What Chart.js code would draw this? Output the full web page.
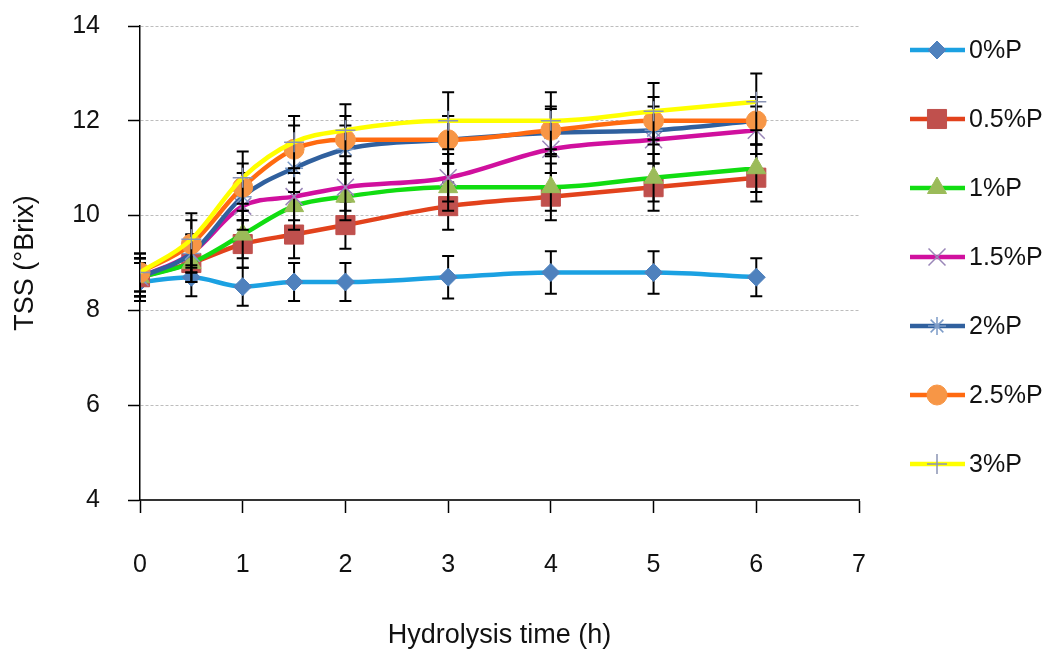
<!DOCTYPE html>
<html lang="en">
<head>
  <meta charset="UTF-8">
  <title>TSS during hydrolysis</title>
  <script src="https://cdn.jsdelivr.net/npm/chart.js"></script>
  <style>
    html, body { margin: 0; padding: 0; background: #fff; }
    #wrap { width: 1052px; height: 652px; }
  </style>
</head>
<body>
  <div id="wrap"><canvas id="tssChart"></canvas></div>
  <script>
    // Hydrolysis time (h) and axis ticks
    const times = [0, 0.5, 1, 1.5, 2, 3, 4, 5, 6];
    const xTickValues = [0, 1, 2, 3, 4, 5, 6, 7];
    const yTickValues = [4, 6, 8, 10, 12, 14];
    const seriesNames = ['0%P', '0.5%P', '1%P', '1.5%P', '2%P', '2.5%P', '3%P'];

    // TSS (°Brix)
    const tss0  = [8.6, 8.7, 8.5, 8.6, 8.6, 8.7, 8.8, 8.8, 8.7];
    const tss05 = [8.7, 9.0, 9.4, 9.6, 9.8, 10.2, 10.4, 10.6, 10.8];
    const tss1  = [8.7, 9.0, 9.6, 10.2, 10.4, 10.6, 10.6, 10.8, 11.0];
    const tss15 = [8.7, 9.2, 10.2, 10.4, 10.6, 10.8, 11.4, 11.6, 11.8];
    const tss2  = [8.7, 9.2, 10.4, 11.0, 11.4, 11.6, 11.75, 11.8, 12.0];
    const tss25 = [8.8, 9.4, 10.6, 11.4, 11.6, 11.6, 11.8, 12.0, 12.0];
    const tss3  = [8.8, 9.5, 10.8, 11.55, 11.8, 12.0, 12.0, 12.2, 12.4];

    // error bar half-lengths
    const err0  = [0.4, 0.4, 0.4, 0.4, 0.4, 0.45, 0.45, 0.45, 0.4];
    const err05 = [0.4, 0.4, 0.5, 0.5, 0.5, 0.5, 0.5, 0.5, 0.5];
    const err1  = [0.4, 0.4, 0.5, 0.5, 0.5, 0.5, 0.5, 0.5, 0.5];
    const err15 = [0.4, 0.4, 0.5, 0.5, 0.5, 0.5, 0.5, 0.5, 0.5];
    const err2  = [0.4, 0.4, 0.5, 0.5, 0.5, 0.5, 0.5, 0.5, 0.5];
    const err25 = [0.4, 0.5, 0.5, 0.5, 0.5, 0.5, 0.5, 0.5, 0.5];
    const err3  = [0.4, 0.55, 0.55, 0.55, 0.55, 0.6, 0.6, 0.6, 0.6];

    const allValues = [tss0, tss05, tss1, tss15, tss2, tss25, tss3];
    const allErrors = [err0, err05, err1, err15, err2, err25, err3];

    // look of each series (Excel-like)
    const lineColors  = ['#1BA1E2', '#E2421C', '#11DD11', '#D0109E', '#30609E', '#FF6A10', '#FFFF00'];
    const markerFill  = ['#4F81BD', '#C0504D', '#9BBB59', 'rgba(0,0,0,0)', 'rgba(0,0,0,0)', '#F79646', 'rgba(0,0,0,0)'];
    const markerEdge  = ['#4F81BD', '#C0504D', '#9BBB59', '#9A86B8', '#7D9CC8', '#F79646', '#8A94B4'];
    const markerShape = ['rectRot', 'rect', 'triangle', 'crossRot', 'star', 'circle', 'cross'];
    const markerSize  = [9, 13.5, 11, 12, 9, 10, 10];
    const markerLine  = [1, 1, 1, 1.5, 1.5, 1, 1.5];

    const FONT = '"Liberation Sans", Arial, sans-serif';

    const datasets = seriesNames.map((name, i) => ({
      label: name,
      data: times.map((t, j) => ({ x: t, y: allValues[i][j] })),
      errors: allErrors[i],
      borderColor: lineColors[i],
      borderWidth: 4.5,
      cubicInterpolationMode: 'monotone',
      pointStyle: markerShape[i],
      pointRadius: markerSize[i],
      pointHoverRadius: markerSize[i],
      pointBackgroundColor: markerFill[i],
      pointBorderColor: markerEdge[i],
      pointBorderWidth: markerLine[i],
      order: -i
    }));

    // black error bars with caps, drawn under each series' own line
    const errorBars = {
      id: 'errorBars',
      beforeDatasetDraw(chart, args) {
        const ds = chart.data.datasets[args.index];
        const yScale = chart.scales.y;
        const ctx = chart.ctx;
        ctx.save();
        ctx.strokeStyle = '#000';
        ctx.lineWidth = 2;
        args.meta.data.forEach((pt, j) => {
          const v = ds.data[j].y, e = ds.errors[j];
          const top = yScale.getPixelForValue(v + e);
          const bot = yScale.getPixelForValue(v - e);
          ctx.beginPath();
          ctx.moveTo(pt.x, top); ctx.lineTo(pt.x, bot);
          ctx.moveTo(pt.x - 6, top); ctx.lineTo(pt.x + 6, top);
          ctx.moveTo(pt.x - 6, bot); ctx.lineTo(pt.x + 6, bot);
          ctx.stroke();
        });
        ctx.restore();
      }
    };

    // legend on the right: line sample + marker + name
    const sideLegend = {
      id: 'sideLegend',
      afterDraw(chart) {
        const { ctx, chartArea } = chart;
        const x0 = chartArea.right + 51;
        const y0 = chartArea.top + 24;
        const step = 69;
        chart.data.datasets.forEach((ds, i) => {
          const y = y0 + i * step;
          ctx.save();
          ctx.strokeStyle = ds.borderColor;
          ctx.lineWidth = ds.borderWidth;
          ctx.beginPath();
          ctx.moveTo(x0, y);
          ctx.lineTo(x0 + 55, y);
          ctx.stroke();
          ctx.fillStyle = ds.pointBackgroundColor;
          ctx.strokeStyle = ds.pointBorderColor;
          ctx.lineWidth = ds.pointBorderWidth;
          if (Chart.helpers && Chart.helpers.drawPoint) {
            Chart.helpers.drawPoint(ctx, {
              pointStyle: ds.pointStyle,
              radius: ds.pointRadius,
              rotation: 0,
              borderWidth: ds.pointBorderWidth
            }, x0 + 27, y);
          }
          ctx.fillStyle = '#111';
          ctx.font = '25px ' + FONT;
          ctx.textBaseline = 'middle';
          ctx.textAlign = 'left';
          ctx.fillText(ds.label, x0 + 59, y + 1);
          ctx.restore();
        });
      }
    };

    new Chart(document.getElementById('tssChart'), {
      type: 'line',
      data: { datasets },
      plugins: [errorBars, sideLegend],
      options: {
        responsive: true,
        maintainAspectRatio: false,
        animation: false,
        layout: { padding: { top: 26, right: 193, left: 0, bottom: 0 } },
        plugins: {
          legend: { display: false },
          tooltip: { enabled: false }
        },
        scales: {
          x: {
            type: 'linear',
            min: 0,
            max: 7,
            afterBuildTicks: s => { s.ticks = xTickValues.map(v => ({ value: v })); },
            afterFit: s => { s.height = 152; },
            grid: {
              drawOnChartArea: false,
              drawTicks: true,
              tickLength: 13,
              tickColor: '#000',
              tickWidth: 1.5
            },
            border: { color: '#333', width: 2 },
            ticks: {
              padding: 37,
              color: '#111',
              font: { family: FONT, size: 25 }
            },
            title: {
              display: true,
              text: 'Hydrolysis time (h)',
              color: '#111',
              font: { family: FONT, size: 27 },
              padding: { top: 0, bottom: 0 }
            }
          },
          y: {
            min: 4,
            max: 14,
            afterBuildTicks: s => { s.ticks = yTickValues.map(v => ({ value: v })); },
            afterFit: s => { s.width = 140; s.paddingTop = 15; s.paddingBottom = 15; },
            grid: {
              color: c => (c.tick && c.tick.value === 4) ? 'rgba(0,0,0,0)' : '#BDBDBD',
              lineWidth: 1,
              tickLength: 12,
              tickColor: '#000',
              tickWidth: 1.5
            },
            border: { color: '#000', width: 1.5, dash: [3, 2] },
            ticks: {
              padding: 28,
              color: '#111',
              font: { family: FONT, size: 25 }
            },
            title: {
              display: true,
              text: 'TSS (°Brix)',
              color: '#111',
              font: { family: FONT, size: 27 },
              padding: { top: 9, bottom: 0 }
            }
          }
        }
      }
    });
  </script>
</body>
</html>
